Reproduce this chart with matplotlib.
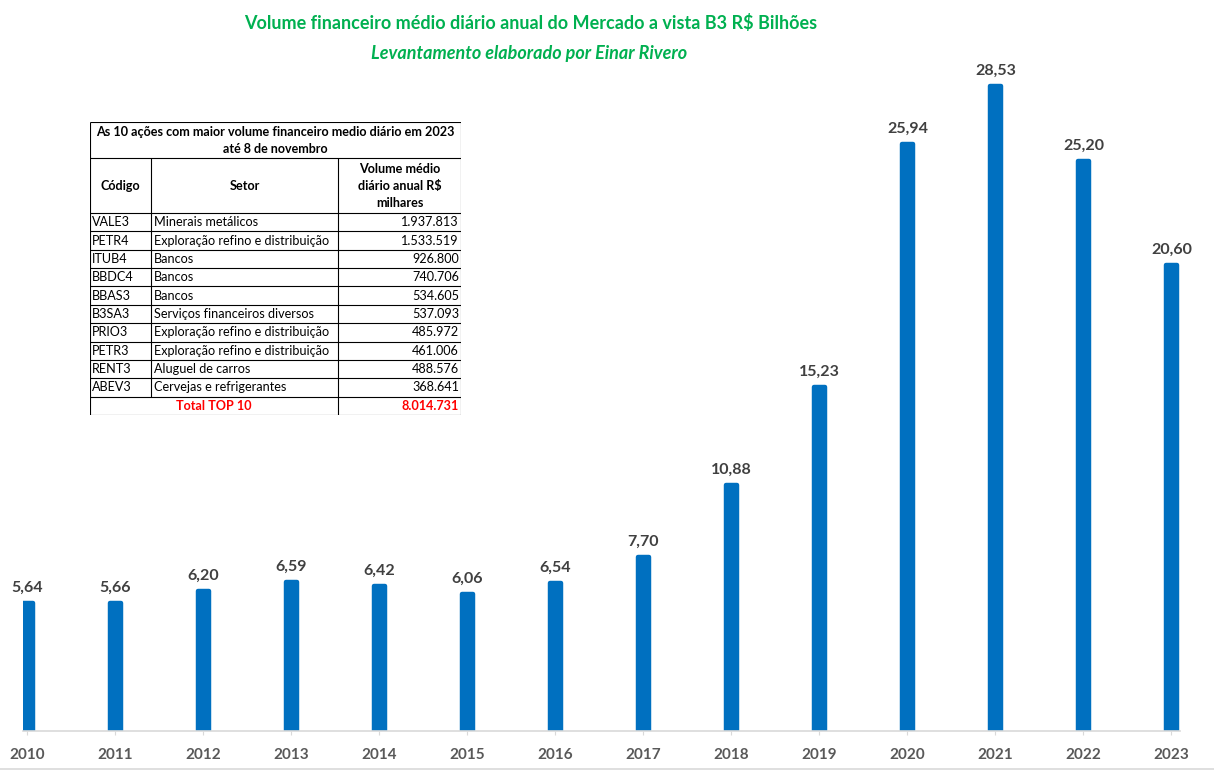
import numpy as np
import matplotlib
matplotlib.use("Agg")
import matplotlib.pyplot as plt
from matplotlib.lines import Line2D

plt.rcParams['font.family'] = ['Lato', 'DejaVu Sans']

# Chart data
years = ['2010', '2011', '2012', '2013', '2014', '2015', '2016',
         '2017', '2018', '2019', '2020', '2021', '2022', '2023']
volumes = [5.64, 5.66, 6.20, 6.59, 6.42, 6.06, 6.54,
           7.70, 10.88, 15.23, 25.94, 28.53, 25.20, 20.60]

# Table data
codes = ['VALE3', 'PETR4', 'ITUB4', 'BBDC4', 'BBAS3',
         'B3SA3', 'PRIO3', 'PETR3', 'RENT3', 'ABEV3']
sectors = ['Minerais metálicos', 'Exploração refino e distribuição', 'Bancos',
           'Bancos', 'Bancos', 'Serviços financeiros diversos',
           'Exploração refino e distribuição', 'Exploração refino e distribuição',
           'Aluguel de carros', 'Cervejas e refrigerantes']
stock_volumes = [1937813, 1533519, 926800, 740706, 534605,
                 537093, 485972, 461006, 488576, 368641]

W, H = 1214, 773
fig = plt.figure(figsize=(W / 100, H / 100), dpi=100)
renderer = fig.canvas.get_renderer()


def fit_size(text, target_px, **kw):
    t = fig.text(0, 0, text, fontsize=10, **kw)
    w = t.get_window_extent(renderer).width
    t.remove()
    return 10 * target_px / w


def thousands(v):
    return f"{v:,}".replace(',', '.')


# ---- bar chart ----
ax = fig.add_axes([23 / W, 42 / H, (1180 - 23) / W, (731 - 60) / H])
x = np.arange(len(years))
bar_color = '#0070C0'
ax.bar(x, volumes, width=0.135, color=bar_color, edgecolor=bar_color,
       linewidth=3.2, joinstyle='round')

for xi, v in zip(x, volumes):
    ax.annotate(f"{v:.2f}".replace('.', ','), (xi, v), xytext=(0, 6),
                textcoords='offset points', ha='center', va='bottom',
                fontsize=11.5, fontweight='bold', color='#404040')

ax.set_xlim(-0.051, 13.097)
ax.set_ylim(0, 671 / 22.61)
ax.set_xticks(x)
ax.set_xticklabels(years, fontsize=11, fontweight='bold', color='#595959')
ax.tick_params(axis='x', length=3, color='#D9D9D9', pad=9.5)
ax.set_yticks([])
for s in ['top', 'right', 'left']:
    ax.spines[s].set_visible(False)
ax.spines['bottom'].set_color('#D9D9D9')
ax.spines['bottom'].set_linewidth(1.2)

# bottom border of the chart area
fig.add_artist(Line2D([0, 1], [1 - 769 / H] * 2, color='#D9D9D9', lw=1.2))

# ---- titles ----
green = '#00B050'
title1 = 'Volume financeiro médio diário anual do Mercado a vista B3 R$ Bilhões'
title2 = 'Levantamento elaborado por Einar Rivero'
fig.text(531 / W, 1 - 23 / H, title1, ha='center', va='center', color=green,
         fontweight='bold', fontsize=13)
fig.text(529 / W, 1 - 53 / H, title2, ha='center', va='center', color=green,
         fontweight='bold', style='italic', fontsize=13)

# ---- table ----
tw, th = 371, 293
axt = fig.add_axes([90 / W, 1 - 415 / H, tw / W, th / H])
axt.set_xlim(0, tw)
axt.set_ylim(th, 0)
axt.axis('off')

col_x = [0, 61, 248, tw]
row_h = (th - 91) / 11
row_y = [0, 36, 91] + [91 + row_h * k for k in range(1, 12)]

lc = dict(color='black', lw=0.8, solid_capstyle='butt')
for y in row_y:
    axt.plot([0, tw], [y, y], **lc)
for i, cx in enumerate(col_x):
    y0 = 0 if i in (0, 3) else 36
    y1 = th if i != 1 else row_y[-2]
    axt.plot([cx, cx], [y0, y1], **lc)

fs = 9.1
head = 'As 10 ações com maior volume financeiro medio diário em 2023'
axt.text(tw / 2, 10, head, ha='center', va='center', fontweight='bold',
         fontsize=fit_size(head, 362, fontweight='bold'))
axt.text(tw / 2, 27, 'até 8 de novembro', ha='center', va='center',
         fontweight='bold', fontsize=9)
hy = (36 + 91) / 2
axt.text((col_x[0] + col_x[1]) / 2, hy, 'Código', ha='center', va='center',
         fontweight='bold', fontsize=fs)
axt.text((col_x[1] + col_x[2]) / 2, hy, 'Setor', ha='center', va='center',
         fontweight='bold', fontsize=fs)
axt.text((col_x[2] + col_x[3]) / 2, hy, 'Volume médio\ndiário anual R$\nmilhares',
         ha='center', va='center', fontweight='bold', fontsize=fs,
         linespacing=1.5)

for k, (c, s, v) in enumerate(zip(codes, sectors, stock_volumes)):
    yc = 91 + row_h * (k + 0.5)
    axt.text(col_x[0] + 2, yc, c, ha='left', va='center', fontsize=fs)
    axt.text(col_x[1] + 3, yc, s, ha='left', va='center', fontsize=fs)
    axt.text(col_x[3] - 2, yc, thousands(v), ha='right', va='center', fontsize=fs)

yt = 91 + row_h * 10.5
red = '#FF0000'
axt.text(col_x[2] / 2, yt, 'Total TOP 10', ha='center', va='center',
         fontweight='bold', color=red, fontsize=fs)
axt.text(col_x[3] - 2, yt, thousands(sum(stock_volumes)), ha='right',
         va='center', fontweight='bold', color=red, fontsize=fs)

fig.savefig('out.png', dpi=100)
